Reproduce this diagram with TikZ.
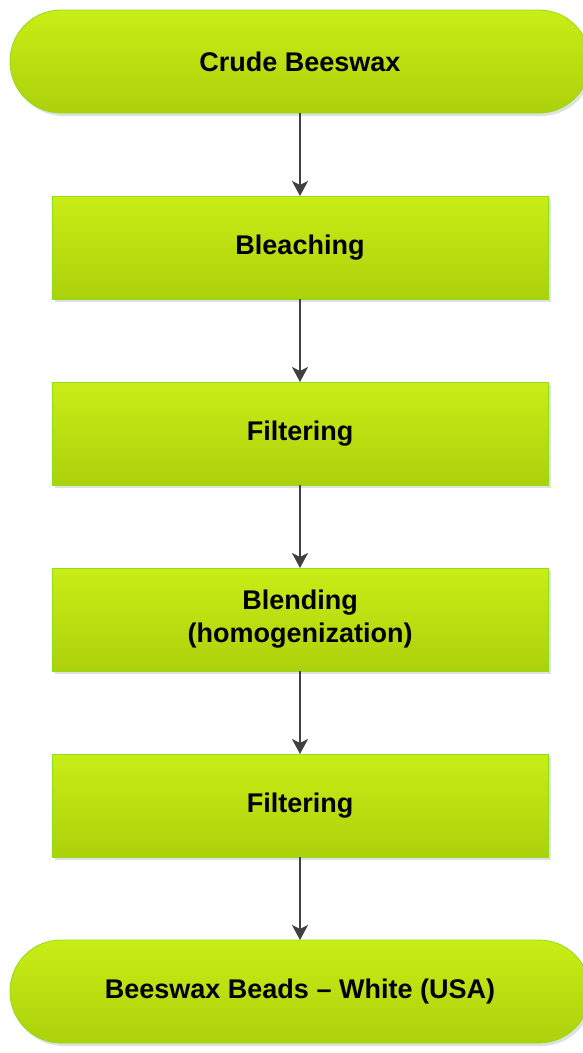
\documentclass[tikz,border=0pt]{standalone}
\usepackage{fontspec}
\setmainfont{Liberation Sans}
\usepackage{xcolor}
\usepackage{tikz}
\usetikzlibrary{shapes.geometric, arrows}
\usetikzlibrary{positioning, arrows.meta, shadows}
\definecolor{limetop}{HTML}{C9ED15}
\definecolor{limebot}{HTML}{ACD10C}
\definecolor{limeline}{HTML}{8EDF1A}
\definecolor{arrowgray}{HTML}{404040}
\begin{document}
\begin{tikzpicture}[
        x=1pt, y=1pt,
        node distance=83pt, % 框之间的间距
        startstop/.style={rectangle, rounded corners=51pt, minimum width=580pt, minimum height=103pt, outer sep=0pt, text centered, draw=limeline, line width=0.8pt, top color=limetop, bottom color=limebot, drop shadow={shadow xshift=2.5pt, shadow yshift=-3pt, fill=black!12, opacity=1}, font=\fontsize{27}{33}\selectfont\bfseries},
        process/.style={rectangle, minimum width=496pt, minimum height=103pt, outer sep=0pt, text centered, align=center, draw=limeline, line width=0.8pt, top color=limetop, bottom color=limebot, drop shadow={shadow xshift=2.5pt, shadow yshift=-3pt, fill=black!12, opacity=1}, font=\fontsize{27}{33}\selectfont\bfseries},
        arrow/.style={line width=1.8pt, draw=arrowgray, -{Stealth[length=15pt, width=16pt, inset=4pt]}}
    ]
        \useasboundingbox (0,0) rectangle (582,-1053);
        \fill[white] (0,0) rectangle (582,-1053);

        % ===== 流程 =====
        \node (crude) [startstop] at (300,-61.5) {Crude Beeswax};
        \node (bleach) [process, below=of crude] {Bleaching};
        \node (filterA) [process, below=of bleach] {Filtering};
        \node (blend) [process, below=of filterA] {Blending\\(homogenization)};
        \node (filterB) [process, below=of blend] {Filtering};
        \node (beads) [startstop, below=of filterB] {Beeswax Beads -- White (USA)};

        % ===== 箭头连接 =====
        \draw [arrow] (crude) -- (bleach);
        \draw [arrow] (bleach) -- (filterA);
        \draw [arrow] (filterA) -- (blend);
        \draw [arrow] (blend) -- (filterB);
        \draw [arrow] (filterB) -- (beads);

    \end{tikzpicture}
\end{document}
